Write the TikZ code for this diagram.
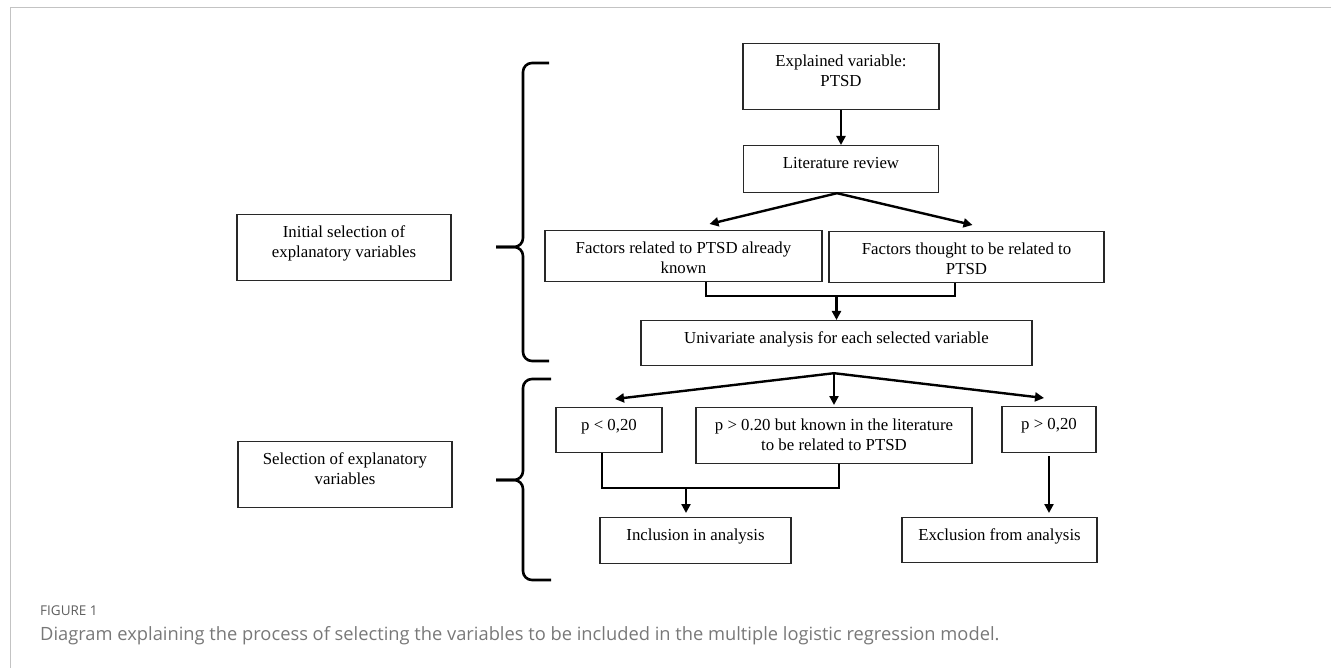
\documentclass[tikz,border=0pt]{standalone}
\usepackage{fontspec}
\setmainfont{Liberation Serif}
\newfontfamily\capfont{Open Sans}
\usetikzlibrary{arrows.meta, positioning, calc}
\definecolor{boxgray}{RGB}{40, 40, 40}
\definecolor{framegray}{RGB}{195, 195, 195}
\definecolor{capgray}{RGB}{120, 120, 120}
\definecolor{labelgray}{RGB}{95, 95, 95}

\begin{document}
\begin{tikzpicture}[x=1pt, y=-1pt,
  box/.style={draw=boxgray, line width=1.2pt, anchor=north, align=center, inner sep=0pt,
    text height=22.5pt, font=\fontsize{16.8}{20}\selectfont},
  twoline/.style={text height=42.5pt},
  arr/.style={-{Triangle[length=9pt, width=9pt]}, line width=2.4pt},
  link/.style={line width=2.4pt},
  brace/.style={line width=2.6pt, rounded corners=9pt},
  captext/.style={anchor=base west, inner sep=0pt, text=capgray, font=\capfont\fontsize{18.3}{21}\selectfont}]

  \useasboundingbox (0,0) rectangle (1331,668);

  % page frame
  \draw[framegray, line width=1pt] (10,668) -- (10,8) -- (1331,8);

  % Main column
  \node[box, twoline, minimum width=196pt, text depth=23.5pt] (expl) at (841,43) {Explained variable:\\PTSD};
  \node[box, minimum width=195pt, text depth=24.5pt] (lit) at (841,145) {Literature review};
  \node[box, twoline, minimum width=277pt, text depth=8.5pt] (factA) at (683.5,230) {Factors related to PTSD already\\known};
  \node[box, twoline, minimum width=275pt, text depth=8.5pt] (factB) at (966.5,231) {Factors thought to be related to\\PTSD};
  \node[box, minimum width=391pt, text depth=22.5pt] (uni) at (836.5,320) {Univariate analysis for each selected variable};

  % Outcomes of the univariate analysis
  \node[box, minimum width=106pt, text depth=22.5pt] (pL) at (609,407) {p < 0,20};
  \node[box, twoline, minimum width=276pt, text depth=13.5pt] (pM) at (834,407) {p > 0.20 but known in the literature\\to be related to PTSD};
  \node[box, minimum width=94pt, text depth=23.5pt] (pR) at (1049,406) {p > 0,20};
  \node[box, minimum width=191pt, text depth=23.5pt] (incl) at (695.5,517) {Inclusion in analysis};
  \node[box, minimum width=195pt, text depth=22.5pt] (excl) at (999.5,517) {Exclusion from analysis};

  % Stage labels
  \node[box, twoline, minimum width=214pt, text depth=23.5pt] (init) at (344,214) {Initial selection of\\explanatory variables};
  \node[box, twoline, minimum width=214pt, text depth=23.5pt] (sel) at (345,441) {Selection of explanatory\\variables};

  % Arrows, upper part
  \draw[arr] (expl.south) -- (lit.north);
  \draw[arr] ([xshift=-4pt]lit.south) -- ([xshift=26pt, yshift=6pt]factA.north);
  \draw[arr] ([xshift=-4pt]lit.south) -- ([xshift=6pt, yshift=6pt]factB.north);
  \coordinate (jA) at ($(uni.north)+(0,-24)$);
  \draw[link] ([xshift=22.5pt]factA.south) |- (jA) -| ([xshift=-11.5pt]factB.south);
  \draw[arr] (jA) -- (uni.north);

  % Arrows, lower part
  \coordinate (jB) at ($(uni.south -| pM.north)+(0,7)$);
  \draw[arr] (jB) -- ([xshift=6pt, yshift=8pt]pL.north);
  \draw[arr] (jB) -- ([yshift=2pt]pM.north);
  \draw[arr] (jB) -- ([xshift=-5pt, yshift=8pt]pR.north);
  \coordinate (jC) at ($(incl.north)+(-9.5,-29)$);
  \draw[link] ([xshift=-7pt]pL.south) |- (jC) -| ([xshift=5pt]pM.south);
  \draw[arr] (jC) -- ($(incl.north -| jC)+(0,-4)$);
  \draw[arr] ([yshift=-3pt]pR.south) -- ($(excl.north -| pR.south)+(0,-4)$);

  % Braces
  \draw[brace] (549,63) -- (523,63) -- (523,247) -- (496,247);
  \draw[brace] (496,247) -- (523,247) -- (523,361) -- (549,361);
  \draw[brace] (551,379) -- (523,379) -- (523,480) -- (496,480);
  \draw[brace] (496,480) -- (523,480) -- (523,580) -- (551,580);

  % Caption
  \node[captext, text=labelgray, font=\capfont\fontsize{13.5}{16}\selectfont] (figlabel) at (40,615) {FIGURE 1};
  \node[captext] (caption) at (40,640) {Diagram explaining the process of selecting the variables to be included in the multiple logistic regression model.};
\end{tikzpicture}
\end{document}
